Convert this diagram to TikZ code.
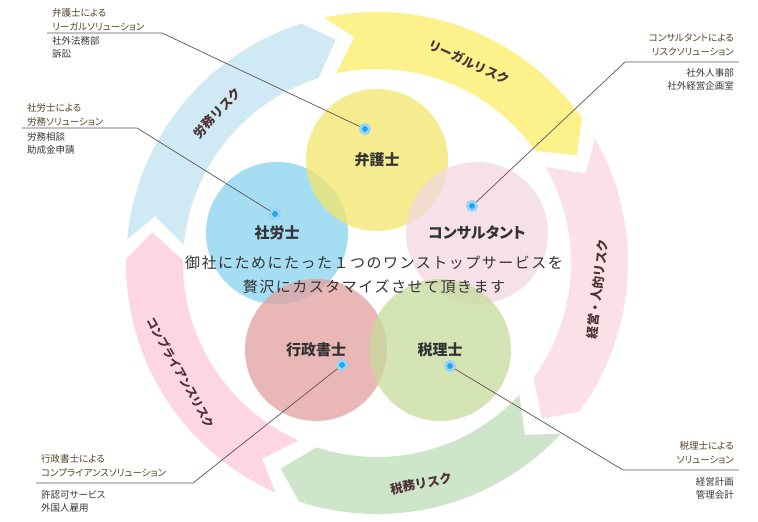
\documentclass[tikz,border=0pt]{standalone}
\usepackage{fontspec}
\setmainfont{Noto Sans CJK JP}
\newfontfamily\jpfont{Noto Sans CJK JP}[CharacterWidth=AlternateProportional]
\newfontfamily\jpplain{Noto Sans CJK JP}
\newfontfamily\jpwide{Noto Sans CJK JP}[LetterSpace=10]
\usetikzlibrary{positioning}
\definecolor{bandblue}{RGB}{207,233,245}
\definecolor{bandyellow}{RGB}{252,241,138}
\definecolor{bandpink}{RGB}{252,224,231}
\definecolor{bandgreen}{RGB}{205,229,201}
\definecolor{bandrose}{RGB}{253,213,227}
\definecolor{cblue}{RGB}{135,211,238}
\definecolor{cyellow}{RGB}{242,230,106}
\definecolor{cpink}{RGB}{242,215,224}
\definecolor{cred}{RGB}{228,160,160}
\definecolor{cgreen}{RGB}{199,219,156}
\definecolor{pinblue}{RGB}{30,165,235}
\definecolor{pinhalo}{RGB}{150,212,244}
\definecolor{riskbrown}{RGB}{77,51,51}
\definecolor{headbrown}{RGB}{85,68,38}
\definecolor{bodygray}{RGB}{55,55,55}
\definecolor{leadergray}{RGB}{100,80,80}
\tikzset{
	expert/.style   = {circle, minimum size=142pt, inner sep=0pt, fill opacity=0.75,
		text opacity=1, text=black!80, font=\jpfont\bfseries\fontsize{15}{15}\selectfont},
	dotpin/.style   = {circle, minimum size=9pt, inner sep=0pt, fill=pinblue,
		draw=pinhalo, line width=2.8pt},
	risklabel/.style = {text=riskbrown, font=\jpplain\bfseries\fontsize{12.5}{12.5}\selectfont},
	notehead/.style = {text=headbrown, inner xsep=5pt, inner ysep=0pt,
		font=\jpfont\fontsize{9.5}{13.5}\selectfont},
	notebody/.style = {text=bodygray, inner xsep=5pt, inner ysep=0pt,
		font=\jpfont\fontsize{9.5}{13.5}\selectfont},
	leader/.style   = {draw=leadergray, line width=0.7pt}
}
\begin{document}
\begin{tikzpicture}[x=1pt, y=1pt]
	\path[use as bounding box, fill=white] (0,0) rectangle (758,522);
	
	% ring of risks
	\begin{scope}[shift={(377,259)}]
		\foreach \t/\h/\c in {174.6/107.5/bandblue, 102.2/35.3/bandyellow,
			29.7/-36.3/bandpink, -42.8/-108.1/bandgreen, -113.9/-180.8/bandrose}
		\fill[\c] (\t:251) arc[start angle=\t, end angle=\h, radius=251]
			-- ({\h-7}:227) -- (\h:194) arc[start angle=\h, end angle=\t, radius=194]
			-- ({\t-6.5}:227) -- cycle;
		\draw
		node at (65.3:221) [risklabel, rotate=-24.7] (rLegal) {リーガルリスク}
		node at (136.8:219) [risklabel, rotate=46.8] (rLabor) {労務リスク}
		node at (-6.7:222) [risklabel, rotate=83.3] (rManage) {経営・人的リスク}
		node at (-78.7:225) [risklabel, rotate=11.3] (rTax) {税務リスク}
		node at (209.3:225) [risklabel, rotate=-60.7, font=\jpplain\bfseries\fontsize{11.5}{11.5}\selectfont] (rComply) {コンプライアンスリスク};
	\end{scope}
	
	% experts
	\draw
	node at (277,289) [expert, fill=cblue] (sharo) {社労士}
	node at (377,362) [expert, fill=cyellow] (bengo) {弁護士}
	node at (477,289) [expert, fill=cpink] (cons) {コンサルタント}
	node at (316,172) [expert, fill=cred] (gyosei) {行政書士}
	node at (440,172) [expert, fill=cgreen] (zei) {税理士};
	
	\node[align=center, text=black!80, font=\jpwide\fontsize{15}{24}\selectfont]
		at (374,247) (motto) {御社にためにたった１つのワンストップサービスを\\贅沢にカスタマイズさせて頂きます};
	
	\draw
	node at (365,393) [dotpin] (pBengo) {}
	node at (275,308) [dotpin] (pSharo) {}
	node at (472,316) [dotpin] (pCons) {}
	node at (342,157) [dotpin] (pGyosei) {}
	node at (450,156) [dotpin] (pZei) {};
	
	% notes
	\coordinate (bengoA) at (47,489);  \coordinate (bengoB) at (162,489);
	\coordinate (sharoA) at (22,394);  \coordinate (sharoB) at (137,394);
	\coordinate (consA) at (625,460);  \coordinate (consB) at (739,460);
	\coordinate (gyoseiA) at (36,39);  \coordinate (gyoseiB) at (193,39);
	\coordinate (zeiA) at (623,52);    \coordinate (zeiB) at (739,52);
	
	\draw[leader] (bengoA) -- (bengoB) -- (pBengo);
	\draw[leader] (sharoA) -- (sharoB) -- (pSharo);
	\draw[leader] (consB) -- (consA) -- (pCons);
	\draw[leader] (gyoseiA) -- (gyoseiB) -- (pGyosei);
	\draw[leader] (zeiB) -- (zeiA) -- (pZei);
	
	\node[notehead, align=left, above right=2pt and 0pt of bengoA] (hBengo) {弁護士による\\リーガルソリューション};
	\node[notebody, align=left, below right=3pt and 0pt of bengoA] (tBengo) {社外法務部\\訴訟};
	\node[notehead, align=left, above right=2pt and 0pt of sharoA] (hSharo) {社労士による\\労務ソリューション};
	\node[notebody, align=left, below right=4pt and 0pt of sharoA] (tSharo) {労務相談\\助成金申請};
	\node[notehead, align=right, above left=6pt and 0pt of consB] (hCons) {コンサルタントによる\\リスクソリューション};
	\node[notebody, align=right, below left=6pt and 0pt of consB] (tCons) {社外人事部\\社外経営企画室};
	\node[notehead, align=left, above right=6pt and 0pt of gyoseiA] (hGyosei) {行政書士による\\コンプライアンスソリューション};
	\node[notebody, align=left, below right=7pt and 0pt of gyoseiA] (tGyosei) {許認可サービス\\外国人雇用};
	\node[notehead, align=right, above left=6pt and 0pt of zeiB] (hZei) {税理士による\\ソリューション};
	\node[notebody, align=right, below left=7pt and 0pt of zeiB] (tZei) {経営計画\\管理会計};
\end{tikzpicture}
\end{document}
